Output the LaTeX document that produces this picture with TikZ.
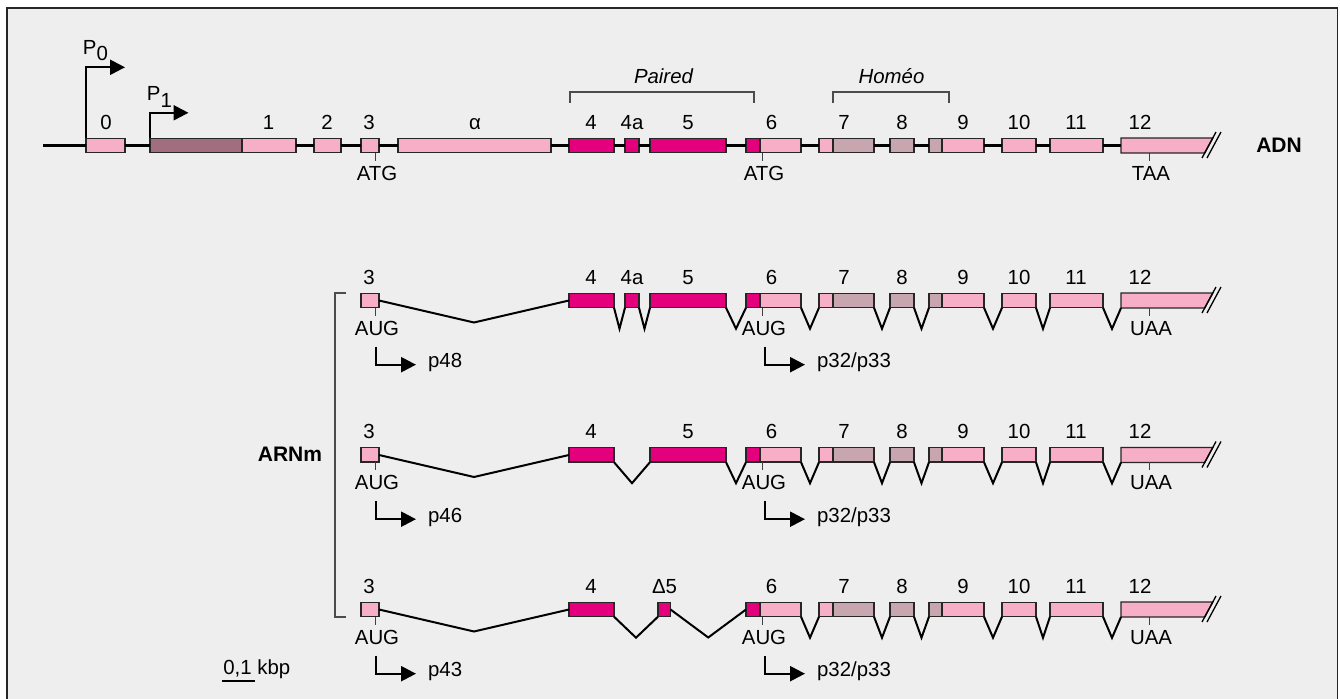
\documentclass[tikz,border=0pt]{standalone}
\usepackage{fontspec}
\setmainfont{Liberation Sans}
\usetikzlibrary{arrows.meta,calc}
\definecolor{bgx}{RGB}{238,238,238}
\definecolor{pinkx}{RGB}{247,175,200}
\definecolor{magx}{RGB}{228,0,124}
\definecolor{mauvex}{RGB}{200,166,176}
\definecolor{plumx}{RGB}{160,110,126}
\begin{document}
\begin{tikzpicture}[x=.5pt,y=-.5pt,line join=miter,
  font=\fontsize{10.2}{12}\selectfont,
  exonline/.style={draw=black!85,line width=.7pt},
  exon/.style={exonline,rectangle,inner sep=0pt,outer sep=0pt,minimum height=7.2pt},
  num/.style={anchor=base,inner sep=0pt},
  codon/.style={anchor=base,inner sep=0pt,text=black,xshift=1pt,yshift=-9.75pt},
  prolab/.style={anchor=base west,inner sep=0pt,xshift=5.5pt,yshift=-1.5pt},
  dna/.style={line width=1.15pt},
  intron/.style={line width=1pt},
  tick/.style={line width=.5pt,black!75},
  brk/.style={line width=.55pt,black!70},
  slash/.style={line width=.65pt},
  prot/.style={line width=1.15pt,-{Triangle[length=7.5pt,width=7.5pt]}}]
\useasboundingbox (0,0) rectangle (1340,699);
\fill[bgx] (7,8) rectangle (1338,699);
\draw[line width=.6pt,black!85] (7,699) -- (7,8) -- (1337.5,8) -- (1337.5,699);
% exons shared by the gene and the three transcripts
\foreach \r/\rowy in {dna/138,m1/293,m2/447.5,m3/602}{
  \foreach \n/\a/\b/\c in {e3/361/379/pinkx,e4/569/614/magx,e6a/746/760/magx,
      e6/760/801/pinkx,e7a/819/833/pinkx,e7/833/874/mauvex,e8/890/914/mauvex,
      e9a/929/942/mauvex,e9/942/984/pinkx,e10/1002/1036/pinkx,e11/1050/1103/pinkx}
    \node[exon,fill=\c,minimum width={(\b-\a)*.5pt}] (\r-\n) at ({(\a+\b)/2},\rowy+7.5) {};
  \draw[exonline,fill=pinkx] (1121,\rowy) -- (1212.8,\rowy) -- (1204.7,\rowy+15)
    -- (1121,\rowy+15) -- cycle;
  \coordinate (\r-e12) at (1121,\rowy+15);
  \coordinate (\r-e12w) at (1121,\rowy+7.5);
  \draw[slash] (1202,\rowy+20) -- (1216,\rowy-6);
  \draw[slash] (1207,\rowy+20) -- (1221,\rowy-6);
  \foreach \t/\x in {3/369,4/591,6/771.5,7/844,8/902,9/963,10/1019,11/1076,12/1140}
    \node[num] (\r-n\t) at (\x,\rowy-8.5) {\t};
}
% gene
\foreach \n/\a/\b/\c in {e0/86/125/pinkx,p1/150/242/plumx,e1/242/296/pinkx,
    e2/314/341/pinkx,ea/398/551/pinkx,e4a/625/639/magx,e5/650/726/magx}
  \node[exon,fill=\c,minimum width={(\b-\a)*.5pt}] (dna-\n) at ({(\a+\b)/2},145.5) {};
\foreach \t/\x/\n in {0/106/0,1/268.5/1,2/327/2,α/475/a,4a/632/4a,5/688/5}
  \node[num] (dna-n\n) at (\x,129.5) {\t};
\coordinate (dnastart) at (43,145.5);
\draw[dna] (dnastart) -- (dna-e0.west);
\foreach \a/\b in {e0/p1,e1/e2,e2/e3,e3/ea,ea/e4,e4/e4a,e4a/e5,e5/e6a,e6/e7a,
    e7/e8,e8/e9a,e9/e10,e10/e11}
  \draw[dna] (dna-\a.east) -- (dna-\b.west);
\draw[dna] (dna-e11.east) -- (dna-e12w);
\draw[prot] (dna-e0.north west) -- ++(0,-71) -- ++(39,0);
\draw[prot] (dna-p1.north west) -- ++(0,-25.5) -- ++(38.5,0);
\node[anchor=base west,inner sep=0pt] (p0lab) at (82.5,55) {P\raisebox{-2.85pt}{0}};
\node[anchor=base west,inner sep=0pt] (p1lab) at (146.5,101) {P\raisebox{-3.1pt}{1}};
\draw[brk] (570,103) -- (570,92) -- (754,92) -- (754,103);
\draw[brk] (833,103) -- (833,92) -- (949,92) -- (949,103);
\node[num,font=\fontsize{10.2}{12}\selectfont\itshape] (paired) at (663.5,84) {Paired};
\node[num,font=\fontsize{10.2}{12}\selectfont\itshape] (homeo) at (891.5,84) {Homéo};
\node[num,font=\fontsize{10.5}{12}\selectfont\bfseries] (adn) at (1279,153) {ADN};
% transcripts
\foreach \r/\rowy in {m1/293,m2/447.5}{
  \node[exon,fill=magx,minimum width=38pt] (\r-e5) at (688,\rowy+7.5) {};
  \node[num] (\r-n5) at (688,\rowy-8.5) {5};
}
\node[exon,fill=magx,minimum width=7pt] (m1-e4a) at (632,300.5) {};
\node[num] (m1-n4a) at (632,284.5) {4a};
\node[exon,fill=magx,minimum width=6.25pt] (m3-eD5) at (664.25,609.5) {};
\node[num] (m3-nD5) at (664.5,593.5) {Δ5};
\foreach \a/\b in {m1-e4/m1-e4a,m1-e4a/m1-e5,m1-e5/m1-e6a,m2-e4/m2-e5,
    m2-e5/m2-e6a,m3-e4/m3-eD5}
  \draw[intron] (\a.south east) -- ($(\a.south east)!.5!(\b.south west)+(0,21)$)
    -- (\b.south west);
\draw[intron] (m3-eD5.east) -- ($(m3-eD5.east)!.5!(m3-e6a.west)+(0,28)$) -- (m3-e6a.west);
\foreach \r/\p in {m1/p48,m2/p46,m3/p43}{
  \draw[intron] (\r-e3.east) -- ($(\r-e3.east)!.5!(\r-e4.west)+(0,22)$) -- (\r-e4.west);
  \foreach \a/\b in {e6/e7a,e7/e8,e8/e9a,e9/e10,e10/e11}
    \draw[intron] (\r-\a.south east) -- ($(\r-\a.south east)!.5!(\r-\b.south west)+(0,21)$)
      -- (\r-\b.south west);
  \draw[intron] (\r-e11.south east) -- ($(\r-e11.south east)!.5!(\r-e12)+(0,21)$)
    -- (\r-e12);
  \draw[prot] ([shift={(-1.5pt,-19.5pt)}]\r-e3.south east) -- ++(0,18) -- ++(40,0)
    node[prolab] (\r-p3) {\p};
  \draw[prot] ([shift={(2.5pt,-19.5pt)}]\r-e6.south west) -- ++(0,18) -- ++(40,0)
    node[prolab] (\r-p6) {p32/p33};
}
\foreach \r/\sa/\sb in {dna/ATG/TAA,m1/AUG/UAA,m2/AUG/UAA,m3/AUG/UAA}{
  \draw[tick] ([xshift=-2pt]\r-e3.south east) -- ++(0,8) node[codon] (\r-c3) {\sa};
  \draw[tick] ([xshift=1pt]\r-e6.south west) -- ++(0,8) node[codon] (\r-c6) {\sa};
  \draw[tick] ([xshift=14pt]\r-e12) -- ++(0,8) node[codon] (\r-c12) {\sb};
}
\draw[brk] (346,293) -- (335,293) -- (335,617) -- (346,617);
\node[num,font=\fontsize{10.5}{12}\selectfont\bfseries] (arnm) at (290,461.5) {ARNm};
\draw[line width=1.1pt] (222,681) -- (255,681);
\node[anchor=base west,inner sep=0pt] (scalelab) at (223,675) {0,1 kbp};
\end{tikzpicture}
\end{document}
